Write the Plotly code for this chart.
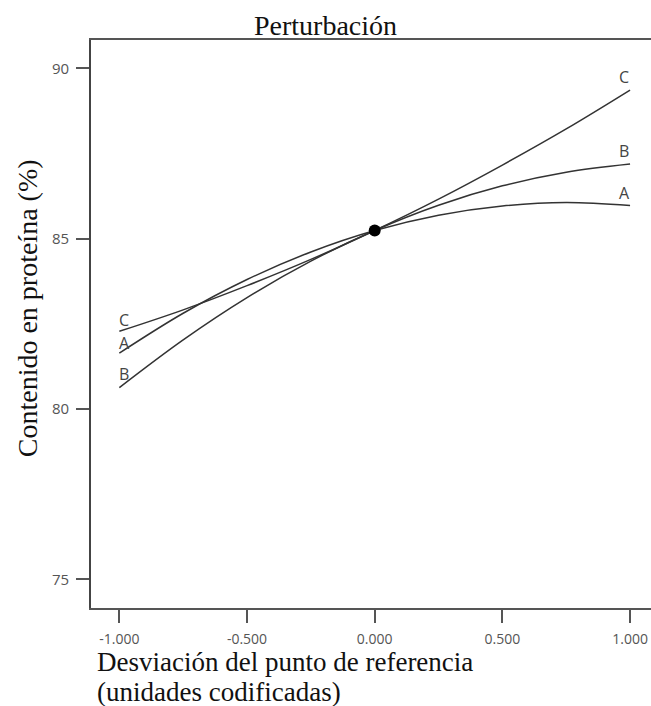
import plotly.graph_objects as go

# Coded deviation from the reference point
deviation = [-1.0, -0.75, -0.5, -0.25, 0.0, 0.25, 0.5, 0.75, 1.0]
# Protein content (%) for each factor
factor_A = [81.64, 82.81, 83.80, 84.61, 85.24, 85.69, 85.96, 86.06, 85.97]
factor_B = [80.63, 82.03, 83.27, 84.34, 85.24, 85.98, 86.55, 86.95, 87.19]
factor_C = [82.28, 82.91, 83.62, 84.39, 85.24, 86.16, 87.16, 88.22, 89.36]
center_x = [0.0]
center_y = [85.24]
x_ticks = [-1.0, -0.5, 0.0, 0.5, 1.0]
x_tick_labels = ["-1.000", "-0.500", "0.000", "0.500", "1.000"]
y_ticks = [75, 80, 85, 90]

LINE = "#333333"
fig = go.Figure()
for name, ys in [("A", factor_A), ("B", factor_B), ("C", factor_C)]:
    fig.add_trace(go.Scatter(x=deviation, y=ys, mode="lines", name=name,
                             line=dict(color=LINE, width=1.5, shape="spline", smoothing=1.0),
                             showlegend=False))
fig.add_trace(go.Scatter(x=center_x, y=center_y, mode="markers",
                         marker=dict(color="black", size=12), showlegend=False))

lab_font = dict(family="Open Sans, Noto Sans, sans-serif", size=16, color="#444444")
# right-end labels
for name, ys in [("A", factor_A), ("B", factor_B), ("C", factor_C)]:
    fig.add_annotation(x=deviation[-1], y=ys[-1], text=name, showarrow=False,
                       xshift=-6, yshift=13, font=lab_font, borderpad=0, borderwidth=0)
# left-end labels
for name, ys, ysh in [("A", factor_A, 10), ("B", factor_B, 14), ("C", factor_C, 11)]:
    fig.add_annotation(x=deviation[0], y=ys[0], text=name, showarrow=False,
                       xshift=5, yshift=ysh, font=lab_font, borderpad=0, borderwidth=0)

serif = dict(family="Liberation Serif, Times New Roman, serif", size=28, color="#111111")
serif_x = dict(family="Liberation Serif, Times New Roman, serif", size=27, color="#111111")
fig.add_annotation(xref="paper", yref="paper", x=0.418, y=1.026, text="Perturbación",
                   showarrow=False, xanchor="center", yanchor="middle", font=serif)
fig.add_annotation(xref="paper", yref="paper", x=0.0107, y=-0.0942,
                   text="Desviación del punto de referencia",
                   showarrow=False, xanchor="left", yanchor="middle", font=serif_x,
                   borderpad=0, borderwidth=0)
fig.add_annotation(xref="paper", yref="paper", x=0.0107, y=-0.1475,
                   text="(unidades codificadas)",
                   showarrow=False, xanchor="left", yanchor="middle", font=serif_x,
                   borderpad=0, borderwidth=0)
fig.add_annotation(xref="paper", yref="paper", x=-0.114, y=0.528,
                   text="Contenido en proteína (%)", textangle=-90,
                   showarrow=False, xanchor="center", yanchor="middle", font=serif)

xtick_font = dict(family="Open Sans, Noto Sans, sans-serif", size=14, color="#555555")
ytick_font = dict(family="Open Sans, Noto Sans, sans-serif", size=15, color="#555555")
fig.update_xaxes(range=[-1.111, 1.082], tickvals=x_ticks, ticktext=x_tick_labels,
                 ticks="outside", ticklen=13, tickwidth=1.5, tickcolor="#555555",
                 showline=True, linecolor="#555555", linewidth=1.8, mirror=True,
                 showgrid=False, zeroline=False, tickfont=xtick_font,
                 ticklabelstandoff=4)
fig.update_yaxes(range=[74.16, 90.83], tickvals=y_ticks,
                 ticks="outside", ticklen=13, tickwidth=1.5, tickcolor="#555555",
                 showline=True, linecolor="#444444", linewidth=1.8,
                 showgrid=False, zeroline=False, tickfont=ytick_font,
                 ticklabelstandoff=4)
fig.update_layout(width=651, height=706, margin=dict(l=91, r=0, t=40, b=98),
                  plot_bgcolor="white", paper_bgcolor="white")
# remove the page's default body margin so the figure fills the window exactly
fig.write_html("out.html", config={"displayModeBar": False},
               post_script="document.body.style.margin='0';"
                           "document.body.style.overflow='hidden';"
                           "document.documentElement.style.overflow='hidden';")
